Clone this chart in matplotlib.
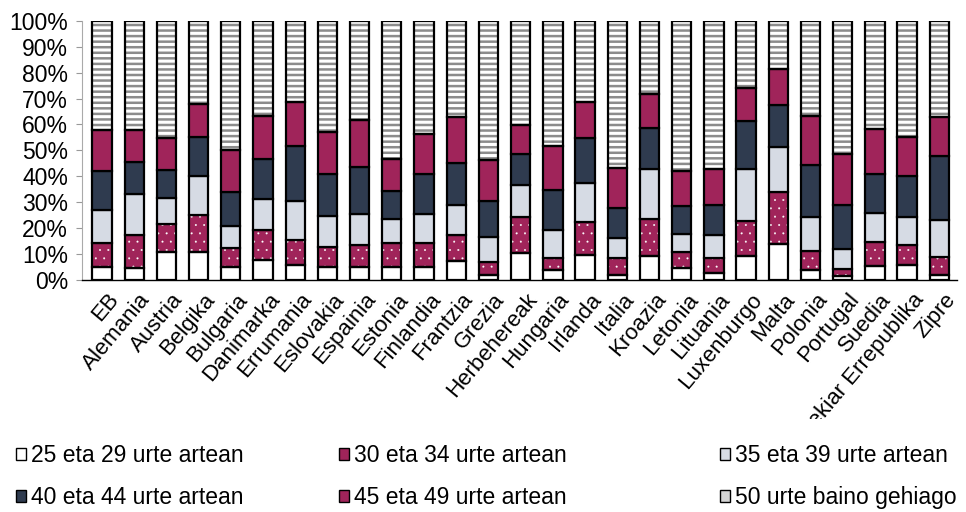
import matplotlib
matplotlib.use('Agg')
import matplotlib.pyplot as plt
import numpy as np
from matplotlib.patches import Patch
from matplotlib.transforms import Bbox, TransformedBbox

plt.rcParams['font.family'] = ['Liberation Sans', 'DejaVu Sans']
plt.rcParams['hatch.linewidth'] = 1.8

countries = ["EB", "Alemania", "Austria", "Belgika", "Bulgaria", "Danimarka", "Errumania",
             "Eslovakia", "Espainia", "Estonia", "Finlandia", "Frantzia", "Grezia",
             "Herbehereak", "Hungaria", "Irlanda", "Italia", "Kroazia", "Letonia",
             "Lituania", "Luxenburgo", "Malta", "Polonia", "Portugal", "Suedia",
             "Txekiar Errepublika", "Zipre"]

series_labels = ["25 eta 29 urte artean", "30 eta 34 urte artean", "35 eta 39 urte artean",
                 "40 eta 44 urte artean", "45 eta 49 urte artean", "50 urte baino gehiago"]

v25_29 = [4.9, 4.5, 10.5, 10.5, 4.9, 7.5, 5.5, 4.9, 4.9, 4.9, 4.9, 7.2, 1.7, 10.1, 3.6,
          9.4, 1.7, 9.0, 4.5, 2.6, 9.0, 13.9, 3.6, 1.3, 5.2, 5.8, 1.7]
v30_34 = [9.4, 12.7, 10.8, 14.4, 7.4, 11.6, 9.7, 7.5, 8.6, 9.3, 9.3, 10.0, 5.1, 13.9, 4.9,
          12.9, 6.7, 14.6, 6.2, 5.8, 13.7, 19.8, 7.5, 2.6, 9.4, 7.5, 7.1]
v35_39 = [12.5, 15.7, 10.1, 15.1, 8.3, 11.9, 15.3, 12.1, 12.0, 9.4, 11.3, 11.6, 9.5, 12.5,
          10.6, 14.9, 7.5, 19.0, 7.1, 8.8, 19.9, 17.7, 13.2, 8.1, 11.2, 10.7, 14.2]
v40_44 = [15.3, 12.4, 10.9, 15.0, 13.1, 15.8, 21.2, 16.3, 18.1, 10.6, 15.3, 16.4, 14.0, 12.0,
          15.5, 17.4, 11.6, 15.9, 10.6, 11.8, 18.8, 16.1, 20.0, 16.9, 15.2, 16.1, 24.7]
v45_49 = [15.7, 12.5, 12.3, 12.9, 16.4, 16.6, 16.8, 16.4, 18.1, 12.3, 15.5, 17.8, 15.9, 11.2,
          17.1, 14.2, 15.5, 13.1, 13.5, 13.6, 12.5, 13.9, 19.1, 19.6, 17.1, 14.9, 15.0]
v50_plus = [42.2, 42.2, 45.4, 32.1, 49.9, 36.6, 31.5, 42.8, 38.3, 53.5, 43.7, 37.0, 53.8, 40.3,
            48.3, 31.2, 57.0, 28.4, 58.1, 57.4, 26.1, 18.6, 36.6, 51.5, 41.9, 45.0, 37.3]

yticks = [0, 10, 20, 30, 40, 50, 60, 70, 80, 90, 100]

crimson = '#A0245A'
dark = '#2F3B4F'
light = '#D6DBE4'
stripe = '#8C8C8C'

# (values, face, hatch, hatch colour, hatch linewidth)
styles = [
    (v25_29, 'white', None, None, 1.0),
    (v30_34, crimson, '..', 'white', 0.2),
    (v35_39, light, None, None, 1.0),
    (v40_44, dark, None, None, 1.0),
    (v45_49, crimson, None, None, 1.0),
    (v50_plus, 'white', '---', stripe, 1.8),
]

fig = plt.figure(figsize=(9.66, 5.12), dpi=100)
ax = fig.add_axes([0.0849, 0.454, 0.9058, 0.505])

x = np.arange(len(countries))
width = 0.6
bottom = np.zeros(len(x))
for vals, face, hatch, hcol, hlw in styles:
    vals = np.array(vals)
    if hatch:
        with plt.rc_context({'hatch.linewidth': hlw}):
            ax.bar(x, vals, width, bottom=bottom, facecolor=face, hatch=hatch,
                   edgecolor=hcol, linewidth=0, zorder=2)
        ax.bar(x, vals, width, bottom=bottom, facecolor='none',
               edgecolor='black', linewidth=1.6, zorder=3)
    else:
        ax.bar(x, vals, width, bottom=bottom, facecolor=face,
               edgecolor='black', linewidth=1.6, zorder=3)
    bottom += vals

ax.set_ylim(0, 100)
ax.set_xlim(-0.62, len(countries) - 0.45)
ax.set_yticks(yticks)
ax.set_yticklabels([f"{t}%" for t in yticks], fontsize=16.5)
ax.set_xticks(x)
ax.set_xticklabels([])
ax.tick_params(axis='x', length=0)
ax.tick_params(axis='y', length=4, width=0.8, color='#999999', pad=6)
for s in ['top', 'right']:
    ax.spines[s].set_visible(False)
ax.spines['left'].set_color('#aaaaaa')
ax.spines['left'].set_linewidth(0.8)
ax.spines['bottom'].set_color('black')
ax.spines['bottom'].set_linewidth(1.0)

# category labels (the long one is cut off by the legend area, as in the original)
clip = TransformedBbox(Bbox([[0, 1 - 419 / 512], [1, 1]]), fig.transFigure)
for i, name in enumerate(countries):
    t = ax.annotate(name, xy=(i + 0.15, 0), xycoords=('data', 'axes fraction'),
                    xytext=(0, -7), textcoords='offset points', rotation=50,
                    ha='right', va='top', rotation_mode='anchor', fontsize=16,
                    annotation_clip=False)
    t.set_clip_box(clip)
    t.set_clip_on(True)

faces = [('white', 'black'), (crimson, 'black'), (light, 'black'),
         (dark, 'black'), (crimson, 'black'), ('#d4d4d4', 'black')]
handles = [Patch(facecolor=f, edgecolor=e, linewidth=1.0) for f, e in faces]
col_x = [16, 339, 720]
for c in range(3):
    idx = [c, c + 3]
    fig.legend([handles[i] for i in idx], [series_labels[i] for i in idx],
               ncol=1, loc='upper left', bbox_to_anchor=(col_x[c] / 966, 1 - 444 / 512),
               frameon=False, fontsize=16.5, handlelength=0.45,
               handleheight=0.45, handletextpad=0.2, labelspacing=0.85,
               borderaxespad=0.0, borderpad=0.0)

fig.savefig('out.png', dpi=100)
